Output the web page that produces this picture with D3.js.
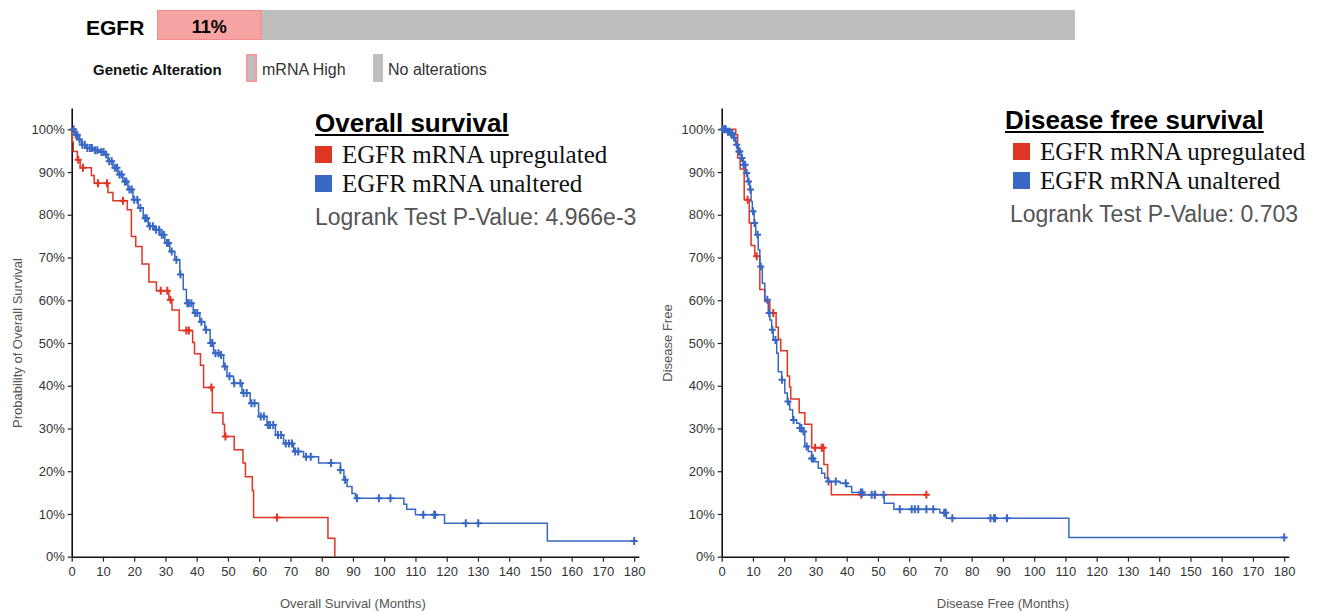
<!DOCTYPE html>
<meta charset="utf-8">
<script src="https://d3js.org/d3.v7.min.js"></script>
<style>
  body { margin: 0; background: #fff; }
  text { font-family: "Liberation Sans", Arial, sans-serif; }
</style>
<svg id="chart" width="1325" height="611"></svg>
<script>

// ---- oncoprint bar ----
var geneName = "EGFR";
var alteredPct = 11.4;      // share of samples with mRNA High
var alterLegend = ["mRNA High", "No alterations"];

// ---- axes ----
var xTicks = [0,10,20,30,40,50,60,70,80,90,100,110,120,130,140,150,160,170,180];
var yTicks = [0,0.1,0.2,0.3,0.4,0.5,0.6,0.7,0.8,0.9,1.0];
var seriesNames = ["EGFR mRNA upregulated", "EGFR mRNA unaltered"];

// ---- overall survival, upregulated ----
var osUpTimes = [0,0.2,0.5,1.8,2.7,6.3,7.2,11.6,13.2,17.8,19.1,20.5,22.5,24.7,27.1,31.1,32.1,34.4,38.7,39.3,41.2,42.2,45.0,48.4,48.9,52.0,54.8,55.6,57.8,58.2,82.0,84.2];
var osUpSurv  = [1.0,0.97,0.948,0.929,0.91,0.892,0.874,0.852,0.833,0.812,0.749,0.726,0.685,0.643,0.622,0.601,0.577,0.529,0.501,0.475,0.448,0.396,0.337,0.31,0.281,0.25,0.219,0.187,0.155,0.092,0.043,0];
var osUpCensor = [2.1,3.6,8.4,11.3,16.4,28.5,30.6,31.6,36.7,37.5,44.7,49.2,65.7];
var osUpEnd = 84.2;

// ---- overall survival, unaltered ----
var osUnTimes = [0,1.0,2.0,3.1,4.7,6.8,9.0,10.6,11.6,13.2,14.8,16.4,18.0,19.6,21.3,22.9,24.5,26.6,28.2,29.8,31.4,33.0,34.6,35.7,36.7,38.9,41.0,42.6,44.3,45.4,47.5,48.6,49.7,51.8,54.5,57.1,59.8,62.5,65.2,67.8,71.0,74.2,79.0,86.0,87.1,88.1,89.7,90.8,106.3,107.2,110.0,119.3,152.2];
var osUnSurv  = [1.0,0.987,0.976,0.964,0.956,0.951,0.947,0.941,0.925,0.91,0.894,0.878,0.859,0.835,0.816,0.792,0.773,0.765,0.753,0.734,0.714,0.695,0.66,0.625,0.593,0.57,0.55,0.531,0.50,0.476,0.472,0.445,0.422,0.406,0.383,0.359,0.328,0.308,0.285,0.265,0.246,0.234,0.219,0.203,0.18,0.164,0.148,0.137,0.123,0.111,0.098,0.078,0.037];
var osUnCensor = [0.6,1.3,1.8,2.5,3.4,4.2,5.0,5.8,6.5,7.5,8.2,9.5,10.2,11.0,12.0,12.8,13.8,14.5,15.3,16.0,17.0,17.5,18.5,19.2,20.0,21.0,22.0,23.5,24.0,25.0,26.0,27.0,28.0,28.8,29.5,30.5,31.0,32.0,33.5,34.8,37.0,37.5,38.3,39.5,40.2,41.5,43.0,44.5,45.0,46.0,47.0,47.8,49.0,50.5,52.0,54.0,55.0,56.0,57.5,58.5,60.5,61.5,62.8,63.5,64.5,66.0,67.0,68.5,69.5,70.5,71.5,72.5,75.0,76.5,83.0,86.0,87.5,91.3,98.3,102.0,112.5,116.0,116.3,126.1,130.1,180];
var osUnEnd = 180;

// ---- disease free survival, upregulated ----
var dfsUpTimes = [0,4.5,5.1,5.9,7.2,8.8,9.4,10.6,12.2,13.8,15.4,17.4,18.1,18.9,21.0,21.7,22.1,24.8,26.6,28.8,32.7,33.9,35.1];
var dfsUpSurv  = [1.0,0.987,0.933,0.907,0.835,0.781,0.728,0.703,0.625,0.597,0.57,0.537,0.509,0.482,0.423,0.397,0.369,0.337,0.31,0.255,0.216,0.176,0.145];
var dfsUpCensor = [8.3,11.2,16.5,29.9,32.0,32.5,44.7,49.0,65.5];
var dfsUpEnd = 65.5;

// ---- disease free survival, unaltered ----
var dfsUnTimes = [0,1.6,2.7,3.7,4.5,5.3,6.2,6.9,7.7,8.3,9.0,9.4,9.8,10.4,10.9,11.7,12.2,13.0,13.8,14.9,15.4,16.0,16.5,17.6,18.1,19.2,20.2,21.0,21.8,22.7,24.0,25.0,26.1,26.6,27.7,28.8,29.8,30.9,32.0,33.0,34.1,37.9,40.0,41.6,45.4,52.0,55.1,69.8,71.9,111.1];
var dfsUnSurv  = [1.0,0.994,0.991,0.98,0.964,0.948,0.933,0.917,0.898,0.878,0.859,0.831,0.808,0.781,0.753,0.718,0.679,0.64,0.601,0.57,0.554,0.531,0.507,0.476,0.433,0.414,0.383,0.363,0.344,0.32,0.312,0.301,0.293,0.258,0.246,0.23,0.222,0.207,0.195,0.184,0.176,0.172,0.164,0.15,0.145,0.125,0.111,0.103,0.09,0.045];
var dfsUnCensor = [0.4,0.9,1.3,2.0,2.4,3.0,3.4,4.0,4.8,5.5,5.8,6.5,7.0,7.5,8.0,8.6,9.2,10.0,10.5,11.5,12.5,14.6,15.2,16.2,17.2,19.3,21.2,23.0,25.0,25.5,26.2,27.2,28.8,29.2,34.2,36.5,39.7,44.5,45.0,48.0,49.0,51.8,57.0,60.8,61.8,62.9,65.5,67.7,71.2,71.7,73.8,86.0,87.1,87.5,91.3,180];
var dfsUnEnd = 180;

var red = "#de3524", blue = "#3867c4";

var svg = d3.select("#chart");

// ---------- oncoprint row ----------
var xBar = d3.scaleLinear().domain([0, 100]).range([157, 1075]);

svg.append("text")
    .attr("x", 86).attr("y", 35)
    .style("font-size", "21px").style("font-weight", "bold")
    .text(geneName);

svg.append("rect")
    .attr("x", xBar(0)).attr("y", 10)
    .attr("width", xBar(100) - xBar(0)).attr("height", 30)
    .attr("fill", "#bebebe");

svg.append("rect")
    .attr("x", xBar(0) + 0.5).attr("y", 10.5)
    .attr("width", xBar(alteredPct) - xBar(0) - 1).attr("height", 29)
    .attr("fill", "#f5a3a3")
    .attr("stroke", "#f28b8b").attr("stroke-width", 1);

svg.append("text")
    .attr("x", (xBar(0) + xBar(alteredPct)) / 2).attr("y", 33)
    .attr("text-anchor", "middle")
    .style("font-size", "18px").style("font-weight", "bold")
    .text(Math.round(alteredPct) + "%");

svg.append("text")
    .attr("x", 93).attr("y", 75)
    .style("font-size", "15px").style("font-weight", "bold").style("fill", "#111")
    .text("Genetic Alteration");

svg.append("rect")
    .attr("x", 247).attr("y", 55).attr("width", 9).attr("height", 26)
    .attr("fill", "#bebebe").attr("stroke", "#f59a9a").attr("stroke-width", 2);
svg.append("text")
    .attr("x", 262).attr("y", 75)
    .style("font-size", "16px").style("fill", "#333")
    .text(alterLegend[0]);

svg.append("rect")
    .attr("x", 373).attr("y", 54).attr("width", 10).attr("height", 28)
    .attr("fill", "#bebebe");
svg.append("text")
    .attr("x", 388).attr("y", 75)
    .style("font-size", "16px").style("fill", "#333")
    .text(alterLegend[1]);

// ---------- KM panels ----------
function survAt(times, surv, t) {
  var s = surv[0];
  for (var i = 0; i < times.length; i++) {
    if (times[i] <= t) s = surv[i];
  }
  return s;
}

function drawPanel(p) {
  var g = svg.append("g");

  var x = d3.scaleLinear().domain([0, 181.5]).range([p.x0, p.x0 + 181.5 * 3.125]);
  var y = d3.scaleLinear().domain([0, 1.05]).range([556.7, 556.7 - 1.05 * 427.4]);

  // axes
  var xAxis = g.append("g")
      .attr("transform", "translate(0," + y(0) + ")")
      .call(d3.axisBottom(x).tickValues(xTicks).tickSize(5).tickPadding(5).tickSizeOuter(0));
  var yAxis = g.append("g")
      .attr("transform", "translate(" + x(0) + ",0)")
      .call(d3.axisLeft(y).tickValues(yTicks).tickFormat(d3.format(".0%")).tickSize(4).tickPadding(3).tickSizeOuter(0));

  [xAxis, yAxis].forEach(function(a) {
    a.select(".domain").attr("stroke", "#111").attr("stroke-width", 1.6);
    a.selectAll(".tick line").attr("stroke", "#222").attr("stroke-width", 1.2);
    a.selectAll(".tick text")
      .style("font-family", "'Liberation Sans', Arial, sans-serif")
      .style("font-size", "13px").style("fill", "#333");
  });

  // axis titles
  g.append("text")
      .attr("x", (x(0) + x(180)) / 2).attr("y", 608)
      .attr("text-anchor", "middle")
      .style("font-size", "13px").style("fill", "#555")
      .text(p.xLabel);
  g.append("text")
      .attr("transform", "translate(" + (x(0) - p.yLabelOff) + "," + y(0.5) + ") rotate(-90)")
      .attr("text-anchor", "middle")
      .style("font-size", "13px").style("fill", "#555")
      .text(p.yLabel);

  // curves
  var line = d3.line()
      .x(function(d) { return x(d[0]); })
      .y(function(d) { return y(d[1]); })
      .curve(d3.curveStepAfter);

  p.series.forEach(function(s) {
    var pts = s.times.map(function(t, i) { return [t, s.surv[i]]; });
    if (s.end > s.times[s.times.length - 1]) pts.push([s.end, s.surv[s.surv.length - 1]]);

    g.append("path")
        .datum(pts)
        .attr("fill", "none")
        .attr("stroke", s.color)
        .attr("stroke-width", 1.5)
        .attr("d", line);

    g.append("g").selectAll("path")
      .data(s.censor)
      .join("path")
        .attr("transform", function(t) {
          return "translate(" + x(t) + "," + y(survAt(s.times, s.surv, t)) + ")";
        })
        .attr("d", "M-3.5,0H3.5M0,-4V4")
        .attr("stroke", s.color)
        .attr("stroke-width", 2);
  });

  // legend
  var lg = g.append("g").attr("transform", "translate(" + p.legX + "," + p.legY + ")");
  var title = lg.append("text")
      .attr("x", p.titleDx).attr("y", 0)
      .style("font-size", "26px").style("font-weight", "bold").style("fill", "#000")
      .text(p.title);
  var tw = title.node().getComputedTextLength();
  lg.append("line")
      .attr("x1", p.titleDx).attr("x2", p.titleDx + tw)
      .attr("y1", 3).attr("y2", 3)
      .attr("stroke", "#000").attr("stroke-width", 2);

  p.series.forEach(function(s, i) {
    lg.append("rect")
        .attr("x", 0).attr("y", 14 + i * 29)
        .attr("width", 17).attr("height", 17)
        .attr("fill", s.color);
    lg.append("text")
        .attr("x", 27).attr("y", 31 + i * 29)
        .style("font-family", "'Liberation Serif', 'Times New Roman', serif")
        .style("font-size", "25px").style("fill", "#111")
        .text(s.name);
  });

  lg.append("text")
      .attr("x", p.pDx).attr("y", 93)
      .style("font-size", "23px").style("fill", "#555")
      .text("Logrank Test P-Value: " + p.pValue);
}

drawPanel({
  x0: 71.7,
  xLabel: "Overall Survival (Months)",
  yLabel: "Probability of Overall Survival",
  yLabelOff: 50,
  title: "Overall survival",
  pValue: "4.966e-3",
  legX: 315, legY: 132, titleDx: 0, pDx: 0,
  series: [
    { name: seriesNames[0], color: red, times: osUpTimes, surv: osUpSurv, censor: osUpCensor, end: osUpEnd },
    { name: seriesNames[1], color: blue, times: osUnTimes, surv: osUnSurv, censor: osUnCensor, end: osUnEnd }
  ]
});

drawPanel({
  x0: 721.7,
  xLabel: "Disease Free (Months)",
  yLabel: "Disease Free",
  yLabelOff: 50,
  title: "Disease free survival",
  pValue: "0.703",
  legX: 1013, legY: 129, titleDx: -8, pDx: -3,
  series: [
    { name: seriesNames[0], color: red, times: dfsUpTimes, surv: dfsUpSurv, censor: dfsUpCensor, end: dfsUpEnd },
    { name: seriesNames[1], color: blue, times: dfsUnTimes, surv: dfsUnSurv, censor: dfsUnCensor, end: dfsUnEnd }
  ]
});

</script>
